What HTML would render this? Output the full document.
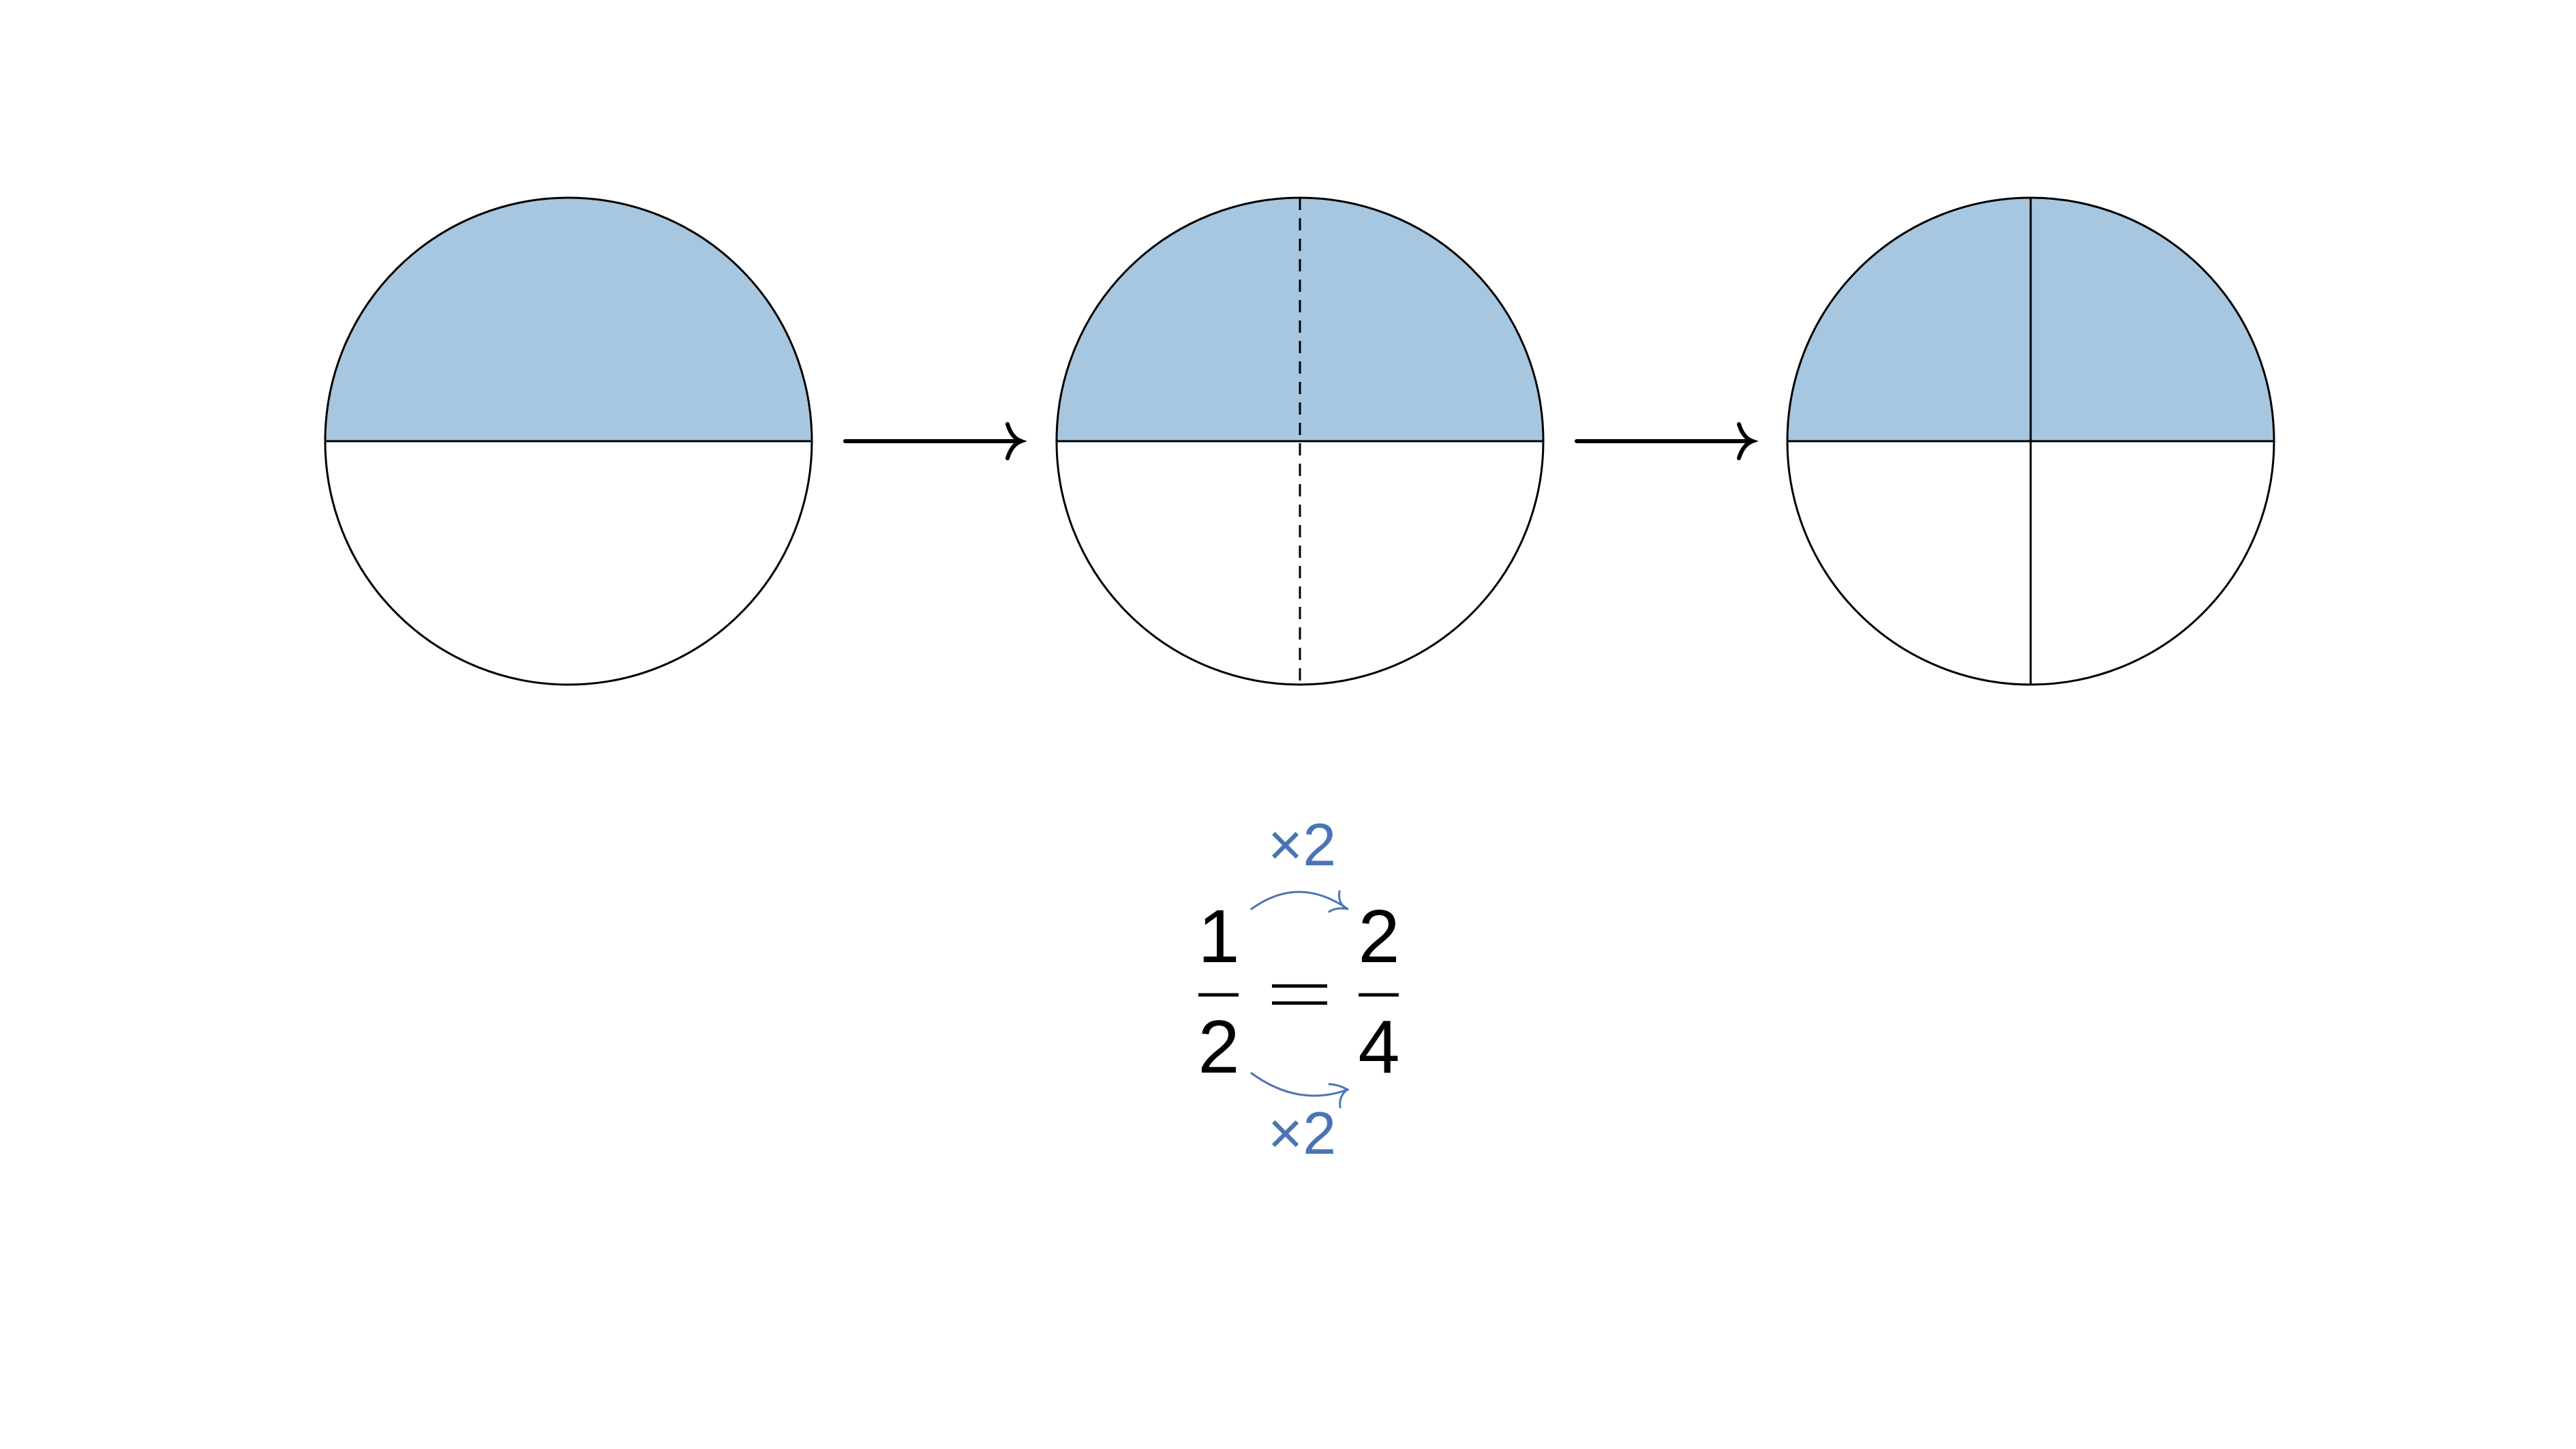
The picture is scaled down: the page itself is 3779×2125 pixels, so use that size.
<!DOCTYPE html>
<html><head><meta charset="utf-8"><style>html,body{margin:0;padding:0;background:#fff}svg{display:block}</style></head>
<body>
<svg width="3779" height="2125" viewBox="0 0 3779 2125" xmlns="http://www.w3.org/2000/svg">
<defs>
<g id="c">
<path d="M -357 0 A 357 357 0 0 1 357 0 Z" fill="#a7c6df"/>
<circle cx="0" cy="0" r="357" fill="none" stroke="#000" stroke-width="3"/>
<line x1="-357" y1="0" x2="357" y2="0" stroke="#000" stroke-width="3"/>
</g>
</defs>
<use href="#c" x="834" y="647"/>
<use href="#c" x="1907" y="647"/>
<line x1="1907" y1="290" x2="1907" y2="1004" stroke="#000" stroke-width="3" stroke-dasharray="18,12"/>
<use href="#c" x="2979" y="647"/>
<line x1="2979" y1="290" x2="2979" y2="1004" stroke="#000" stroke-width="3"/>
<g stroke="#000" stroke-width="6" fill="none" stroke-linecap="round">
<line x1="1240" y1="647" x2="1496" y2="647"/>
<path d="M1478 622 Q1484 642 1498 647 Q1484 652 1478 672"/>
<line x1="2313" y1="647" x2="2569" y2="647"/>
<path d="M2551 622 Q2557 642 2571 647 Q2557 652 2551 672"/>
</g>
<g font-family="Liberation Sans, DejaVu Sans, sans-serif" font-size="110" text-anchor="middle" fill="#000">
<text x="1788" y="1411">1</text>
<text x="1788" y="1573">2</text>
<text x="2023" y="1411">2</text>
<text x="2023" y="1573">4</text>
</g>
<g stroke="#000" stroke-width="5">
<line x1="1758" y1="1459" x2="1817" y2="1459"/>
<line x1="1993" y1="1459" x2="2052" y2="1459"/>
<line x1="1866" y1="1446" x2="1947" y2="1446"/>
<line x1="1866" y1="1471" x2="1947" y2="1471"/>
</g>
<g fill="#4a74b4" font-family="Liberation Sans, DejaVu Sans, sans-serif" font-size="88" text-anchor="middle">
<text x="1910" y="1269">×2</text>
<text x="1910" y="1692">×2</text>
</g>
<g stroke="#4a74b4" stroke-width="3" fill="none" stroke-linecap="round">
<path d="M1836 1333 Q1905 1283 1977 1333"/>
<path d="M1965 1307 Q1962 1326 1977 1333 Q1960 1330 1950 1337"/>
<path d="M1836 1574 Q1905 1624 1977 1598"/>
<path d="M1950 1590 Q1962 1590 1977 1598 Q1964 1606 1966 1624"/>
</g>
</svg>
</body></html>
